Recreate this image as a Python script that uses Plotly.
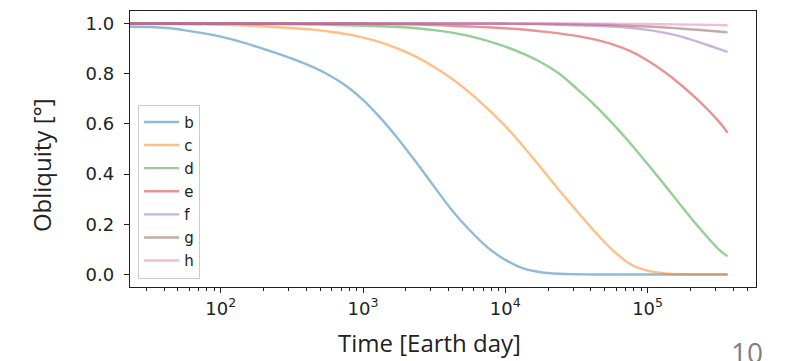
import plotly.graph_objects as go

# Time grid (Earth days); the first point lies left of the visible range
time_days = [10, 31.6, 42.2, 56.2, 75.0, 100, 133, 178, 237, 316, 422, 562, 750,
             1000, 1334, 1778, 2371, 3162, 4217, 5623, 7499, 10000, 13335, 17783,
             23714, 31623, 42170, 56234, 74989, 100000, 133352, 177828, 237137,
             316228, 365000]

planet_names = ["b", "c", "d", "e", "f", "g", "h"]

obl_b = [0.987, 0.986, 0.982, 0.973, 0.962, 0.948, 0.930, 0.908, 0.885, 0.860,
         0.832, 0.798, 0.754, 0.696, 0.622, 0.538, 0.446, 0.350, 0.256, 0.176,
         0.108, 0.058, 0.024, 0.009, 0.003, 0.001, 0.0, 0.0, 0.0, 0.0,
         0.0, 0.0, 0.0, 0.0, 0.0]
obl_c = [0.999, 0.998, 0.998, 0.997, 0.996, 0.995, 0.993, 0.990, 0.986, 0.982,
         0.977, 0.969, 0.959, 0.944, 0.925, 0.899, 0.867, 0.827, 0.780, 0.725,
         0.661, 0.591, 0.511, 0.425, 0.338, 0.255, 0.173, 0.099, 0.043, 0.015,
         0.004, 0.001, 0.0, 0.0, 0.0]
obl_d = [1.0, 1.0, 1.0, 1.0, 0.999, 0.999, 0.999, 0.998, 0.998, 0.997,
         0.996, 0.995, 0.993, 0.991, 0.989, 0.986, 0.981, 0.974, 0.964, 0.950,
         0.931, 0.908, 0.880, 0.846, 0.802, 0.742, 0.677, 0.604, 0.525, 0.440,
         0.353, 0.264, 0.178, 0.100, 0.072]
obl_e = [1.0, 1.0, 1.0, 1.0, 1.0, 1.0, 1.0, 1.0, 1.0, 1.0,
         0.999, 0.999, 0.999, 0.999, 0.998, 0.997, 0.996, 0.994, 0.991, 0.988,
         0.985, 0.981, 0.976, 0.969, 0.961, 0.951, 0.937, 0.918, 0.891, 0.853,
         0.805, 0.748, 0.684, 0.610, 0.565]
obl_f = [1.0, 1.0, 1.0, 1.0, 1.0, 1.0, 1.0, 1.0, 1.0, 1.0,
         1.0, 1.0, 1.0, 1.0, 1.0, 1.0, 1.0, 1.0, 0.999, 0.999,
         0.999, 0.999, 0.998, 0.997, 0.995, 0.993, 0.991, 0.988, 0.983, 0.975,
         0.963, 0.946, 0.923, 0.899, 0.887]
obl_g = [1.0, 1.0, 1.0, 1.0, 1.0, 1.0, 1.0, 1.0, 1.0, 1.0,
         1.0, 1.0, 1.0, 1.0, 1.0, 1.0, 1.0, 1.0, 1.0, 1.0,
         1.0, 1.0, 0.999, 0.999, 0.998, 0.997, 0.996, 0.994, 0.991, 0.988,
         0.984, 0.979, 0.974, 0.968, 0.965]
obl_h = [1.0, 1.0, 1.0, 1.0, 1.0, 1.0, 1.0, 1.0, 1.0, 1.0,
         1.0, 1.0, 1.0, 1.0, 1.0, 1.0, 1.0, 1.0, 1.0, 1.0,
         1.0, 1.0, 1.0, 1.0, 1.0, 1.0, 0.999, 0.999, 0.998, 0.998,
         0.997, 0.996, 0.995, 0.994, 0.993]

series = [obl_b, obl_c, obl_d, obl_e, obl_f, obl_g, obl_h]

x_tick_vals = [100, 1000, 10000, 100000]
x_tick_text = ["10<sup>2</sup>", "10<sup>3</sup>", "10<sup>4</sup>", "10<sup>5</sup>"]
y_tick_vals = [0.0, 0.2, 0.4, 0.6, 0.8, 1.0]

colors = ["rgba(31,119,180,0.5)", "rgba(255,127,14,0.5)", "rgba(44,160,44,0.5)",
          "rgba(214,39,40,0.5)", "rgba(148,103,189,0.5)", "rgba(140,86,75,0.5)",
          "rgba(227,119,194,0.5)"]

fig = go.Figure()
for name, vals, col in zip(planet_names, series, colors):
    fig.add_trace(go.Scatter(
        x=time_days, y=vals, mode="lines", name=name, legendgroup=name,
        line=dict(color=col, width=2.4, shape="spline", smoothing=0.9),
    ))

tick_font = dict(family="DejaVu Sans", size=18, color="#222")
fig.update_layout(
    width=790, height=361,
    margin=dict(l=130, r=34, t=11, b=74),
    paper_bgcolor="white", plot_bgcolor="white",
    showlegend=True,
    legend=dict(
        x=0.013, y=0.03, xanchor="left", yanchor="bottom",
        bgcolor="rgba(255,255,255,0.8)", bordercolor="#cccccc", borderwidth=1,
        font=dict(family="DejaVu Sans", size=15, color="#222"),
        tracegroupgap=0.6, itemwidth=35,
    ),
    annotations=[
        dict(text="Time [Earth day]", xref="paper", yref="paper", x=0.479, y=-0.2,
             xanchor="center", yanchor="middle", showarrow=False,
             font=dict(family="Open Sans", size=24, color="#222")),
        dict(text="Obliquity [°]", xref="paper", yref="paper", x=-0.142, y=0.442,
             xanchor="center", yanchor="middle", showarrow=False, textangle=-90,
             font=dict(family="Open Sans", size=24, color="#222")),
        dict(text="10", xref="paper", yref="paper", x=1.0, y=-0.16,
             xanchor="left", yanchor="top", xshift=-27, showarrow=False,
             font=dict(family="Open Sans", size=28, color="#7f7f7f")),
    ],
)
fig.update_xaxes(
    type="log", range=[1.362, 5.762],
    tickvals=x_tick_vals, ticktext=x_tick_text,
    ticks="outside", ticklen=5, tickwidth=1, tickcolor="#222",
    minor=dict(ticks="outside", ticklen=3, tickwidth=1, tickcolor="#222", dtick="D1", showgrid=False),
    showline=True, linecolor="#222", linewidth=1.3, mirror=True,
    showgrid=False, zeroline=False, tickfont=tick_font,
)
fig.update_yaxes(
    range=[-0.05, 1.05], tickvals=y_tick_vals, tickformat=".1f",
    ticks="outside", ticklen=5, tickwidth=1, tickcolor="#222",
    showline=True, linecolor="#222", linewidth=1.3, mirror=True,
    showgrid=False, zeroline=False, tickfont=tick_font, ticklabelstandoff=6,
)

fig.write_html("out.html")
